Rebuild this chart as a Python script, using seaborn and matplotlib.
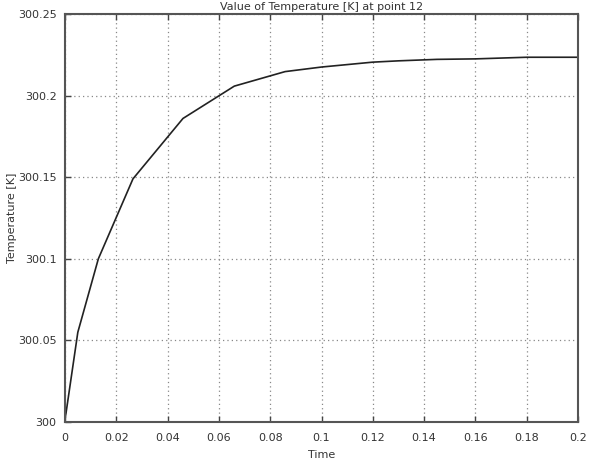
import matplotlib
matplotlib.use("Agg")
import matplotlib.pyplot as plt
import seaborn as sns
import pandas as pd

time = [0.0, 0.0004, 0.005, 0.013, 0.0265, 0.046, 0.066, 0.0858, 0.1, 0.11, 0.12, 0.13, 0.145, 0.16, 0.18, 0.2]
temperature = [300.002, 300.0055, 300.055, 300.1, 300.149, 300.186, 300.2058, 300.2147, 300.2175, 300.219,
               300.2205, 300.2213, 300.2222, 300.2225, 300.2235, 300.2235]
xticks = [0, 0.02, 0.04, 0.06, 0.08, 0.1, 0.12, 0.14, 0.16, 0.18, 0.2]
xticklabels = ["0", "0.02", "0.04", "0.06", "0.08", "0.1", "0.12", "0.14", "0.16", "0.18", "0.2"]
yticks = [300, 300.05, 300.1, 300.15, 300.2, 300.25]
yticklabels = ["300", "300.05", "300.1", "300.15", "300.2", "300.25"]

sns.set_style("white")
plt.rcParams['font.family'] = ['DejaVu Sans']

df = pd.DataFrame({"Time": time, "Temperature": temperature})

fig = plt.figure(figsize=(6, 4.71), dpi=100)
ax = fig.add_axes([65/600, 49/471, 513/600, 408/471])
sns.lineplot(data=df, x="Time", y="Temperature", ax=ax, color="#222222", linewidth=1.2)

ax.set_xlim(0, 0.2)
ax.set_ylim(300, 300.25)
ax.set_xticks(xticks)
ax.set_xticklabels(xticklabels)
ax.set_yticks(yticks)
ax.set_yticklabels(yticklabels)
ax.grid(True, linestyle=(0, (1, 2.5)), color="#888888", linewidth=0.9)
ax.tick_params(direction="in", length=4, width=1, colors="#444444", labelcolor="#333333", labelsize=8,
               top=True, right=False, bottom=True, left=True)
ax.tick_params(axis="x", pad=8)
ax.tick_params(axis="y", pad=6)
for s in ax.spines.values():
    s.set_color("#555555")
    s.set_linewidth(1.5)
    s.set_visible(True)

ax.set_xlabel("Time", fontsize=8, color="#333333", labelpad=5)
ax.set_ylabel("Temperature [K]", fontsize=8, color="#333333")
ax.yaxis.set_label_coords(-0.094, 0.5)
ax.set_title("Value of Temperature [K] at point 12", fontsize=8, color="#333333", pad=3)

fig.savefig("out.png", dpi=100, facecolor="white")
